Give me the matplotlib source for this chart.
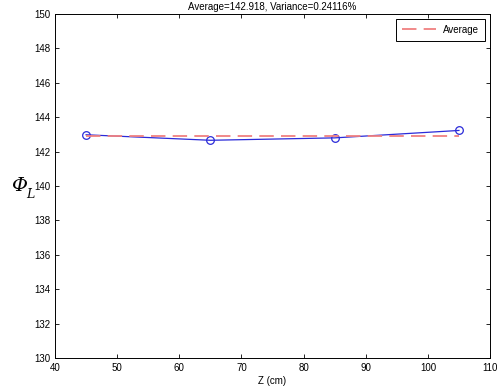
import numpy as np
import matplotlib
matplotlib.use('Agg')
import matplotlib.pyplot as plt

plt.rcParams['font.family'] = ['Liberation Sans', 'DejaVu Sans']

z = [45, 65, 85, 105]
phi = [142.98, 142.66, 142.80, 143.232]
avg = np.mean(phi)
var_pct = 0.24116

fig = plt.figure(figsize=(4.97, 3.92), dpi=100)
ax = fig.add_axes([0.1107, 0.087, 0.8753, 0.877])

ax.plot(z, phi, '-', color='#2b2bd9', lw=0.9, marker='o', mfc='none', mec='#2b2bd9', ms=5.5, mew=0.9)
ax.plot([z[0], z[-1]], [avg, avg], '--', color='#f08080', lw=1.3, dashes=(8, 4), label='Average')

ax.set_xlim(40, 110)
ax.set_ylim(130, 150)
ax.set_xticks(np.arange(40, 111, 10))
ax.set_yticks(np.arange(130, 151, 2))
ax.tick_params(direction='in', top=True, right=True, labelsize=7, length=3, width=0.6)
for s in ax.spines.values():
    s.set_linewidth(0.7)

ax.set_title('Average=%.3f, Variance=%s%%' % (avg, var_pct), fontsize=7, pad=3)
ax.set_xlabel('Z (cm)', fontsize=7, labelpad=2)

# y label: italic Phi with subscript L
ax.text(-0.083, 0.5, 'Φ', transform=ax.transAxes, fontsize=14, family='DejaVu Serif',
        style='italic', ha='center', va='center')
ax.text(-0.056, 0.475, 'L', transform=ax.transAxes, fontsize=9, family='DejaVu Serif',
        style='italic', ha='center', va='center')

leg = ax.legend(loc='upper right', fontsize=7, fancybox=False, edgecolor='black', framealpha=1,
                handlelength=3.5, borderpad=0.6)
leg.get_frame().set_linewidth(0.7)

fig.savefig('out.png', dpi=100)
